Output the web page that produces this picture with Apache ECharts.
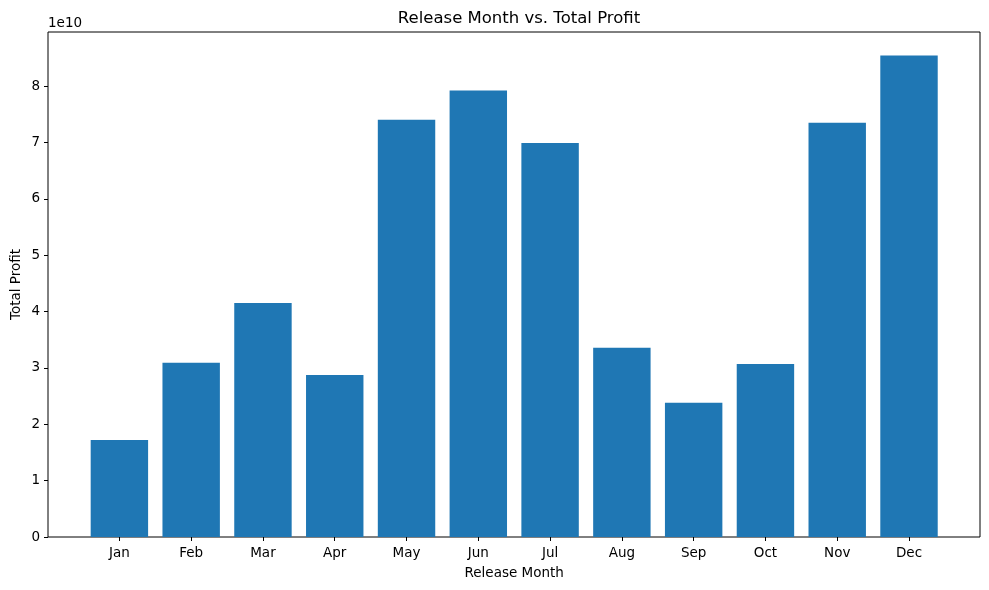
<!DOCTYPE html>
<html>
<head>
<meta charset="utf-8">
<script src="https://cdn.jsdelivr.net/npm/echarts@6/dist/echarts.min.js"></script>
<style>
html,body{margin:0;padding:0;background:#fff;}
#chart{width:989px;height:590px;}
</style>
</head>
<body>
<div id="chart"></div>
<script>
const months = ['Jan','Feb','Mar','Apr','May','Jun','Jul','Aug','Sep','Oct','Nov','Dec'];
const totalProfit = [1.72e10, 3.09e10, 4.15e10, 2.875e10, 7.40e10, 7.92e10, 6.99e10, 3.355e10, 2.38e10, 3.07e10, 7.35e10, 8.54e10];
const yTicks = [0, 1e10, 2e10, 3e10, 4e10, 5e10, 6e10, 7e10, 8e10];
const yMax = 8.958e10;

const font = 'DejaVu Sans';
const chart = echarts.init(document.getElementById('chart'), null, {renderer: 'canvas'});
chart.setOption({
  animation: false,
  backgroundColor: '#fff',
  textStyle: {fontFamily: font},
  title: {
    text: 'Release Month vs. Total Profit',
    left: 514, top: 5, textAlign: 'center',
    textStyle: {fontFamily: font, fontSize: 16.5, fontWeight: 'normal', color: '#000'}
  },
  grid: [
    {left: 48, right: 9, top: 32, bottom: 53, show: true, borderColor: '#000', borderWidth: 1, backgroundColor: 'transparent', containLabel: false},
    {left: 83.5, right: 44.1, top: 32, bottom: 53, containLabel: false}
  ],
  xAxis: [
    {gridIndex: 0, type: 'value', min: 0, max: 1, show: false},
    {gridIndex: 1, type: 'category', data: months, boundaryGap: true,
     axisLine: {show: false},
     axisTick: {show: true, alignWithLabel: true, length: 4, lineStyle: {color: '#000', width: 1}},
     axisLabel: {color: '#000', fontSize: 13.5, fontFamily: font, margin: 9},
     splitLine: {show: false},
     name: 'Release Month', nameLocation: 'middle', nameGap: 29,
     nameTextStyle: {color: '#000', fontSize: 13.5, fontFamily: font}}
  ],
  yAxis: [
    {gridIndex: 0, type: 'value', min: 0, max: yMax,
     axisLine: {show: false},
     axisTick: {show: true, length: 4, lineStyle: {color: '#000', width: 1}, customValues: yTicks},
     axisLabel: {color: '#000', fontSize: 13.5, fontFamily: font, margin: 8, customValues: yTicks,
       formatter: v => String(Math.round(v / 1e10))},
     splitLine: {show: false},
     name: '1e10', nameLocation: 'end', nameGap: 2,
     nameTextStyle: {color: '#000', fontSize: 13.5, fontFamily: font, align: 'left', verticalAlign: 'bottom', padding: [0, 0, 0, 0]}},
    {gridIndex: 1, type: 'value', min: 0, max: yMax,
     axisLine: {show: false}, axisTick: {show: false}, axisLabel: {show: false}, splitLine: {show: false},
     name: 'Total Profit', nameLocation: 'middle', nameRotate: 90, nameGap: 60,
     nameTextStyle: {color: '#000', fontSize: 13.5, fontFamily: font}}
  ],
  series: [{
    type: 'bar', xAxisIndex: 1, yAxisIndex: 1,
    data: totalProfit, barWidth: '80%',
    itemStyle: {color: '#1f77b4', borderWidth: 0}
  }]
});
</script>
</body>
</html>
